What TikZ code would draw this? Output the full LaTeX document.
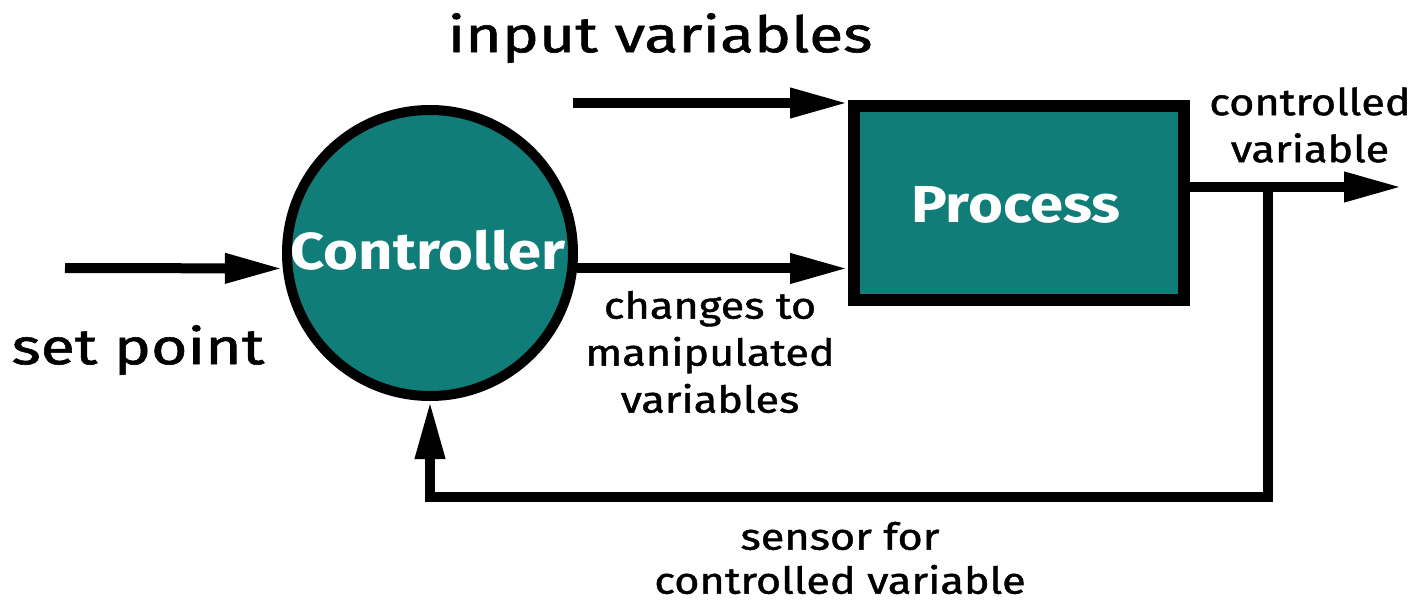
\documentclass[tikz,border=0pt]{standalone}
\usepackage{fontspec}
\setmainfont{Fira Sans}
\newfontfamily\lblfont[FakeStretch=1.25, FakeBold=1.2]{Fira Sans}
\newfontfamily\smlfont[FakeStretch=1.17, FakeBold=1.2]{Fira Sans}
\newfontfamily\boxfont[FakeStretch=1.15]{Fira Sans Bold}
\usetikzlibrary{arrows.meta}
\definecolor{tealfill}{RGB}{17,125,120}
\tikzset{
  flow/.style={line width=10pt, -{Triangle[length=58pt,width=28pt]}},
  plain/.style={line width=10pt},
  bigtxt/.style={font=\lblfont\fontsize{50}{54}\selectfont, inner sep=0pt},
  smalltxt/.style={font=\smlfont\fontsize{37}{47}\selectfont, align=center, inner sep=0pt},
  whitetxt/.style={font=\boxfont\fontsize{52}{56}\selectfont, text=white},
}
\begin{document}
\begin{tikzpicture}[x=1pt,y=-1pt]
\useasboundingbox[fill=white] (0,0) rectangle (1424,602);
% nodes
\node[circle, draw, line width=10pt, fill=tealfill, minimum size=286pt, inner sep=0pt] (ctrl) at (430,253) {};
\node[whitetxt, inner sep=0pt] (ctrltxt) at (428,250) {Controller};
\node[draw, line width=12pt, fill=tealfill, minimum width=330pt, minimum height=194pt, inner sep=0pt] (proc) at (1019,203) {};
\node[whitetxt, inner sep=0pt] (proctxt) at (1016,205) {Process};
% labels
\node[bigtxt] (inlbl) at (660,38) {input variables};
\node[bigtxt] (splbl) at (138,350) {set point};
\node[smalltxt] (mvlbl) at (710,352) {changes to\\manipulated\\variables};
\node[smalltxt] (cvlbl) at (1310,125) {controlled\\variable};
\node[smalltxt, font=\smlfont\fontsize{37}{44}\selectfont] (senslbl) at (840,558) {sensor for\\controlled variable};
% coordinates
\coordinate (spstart) at (65,268);
\coordinate (instart) at (573,103);
\coordinate (outend) at (1402,187);
\coordinate (branch) at (1268,187);
\coordinate (fbcorner) at (1268,497);
\coordinate (fbleft) at (430,497);
% connectors
\draw[flow] (spstart) -- (ctrl.186);
\draw[flow] (instart) -- (proc.west |- instart);
\draw[flow] (ctrl.-6) -- (proc.west |- ctrl.-6);
\draw[flow] (proc.east |- outend) -- (outend);
\draw[plain] (branch) -- (fbcorner) -- (fbleft);
\draw[flow] (fbleft) ++(0,5) -- (ctrl.south);
\end{tikzpicture}
\end{document}
